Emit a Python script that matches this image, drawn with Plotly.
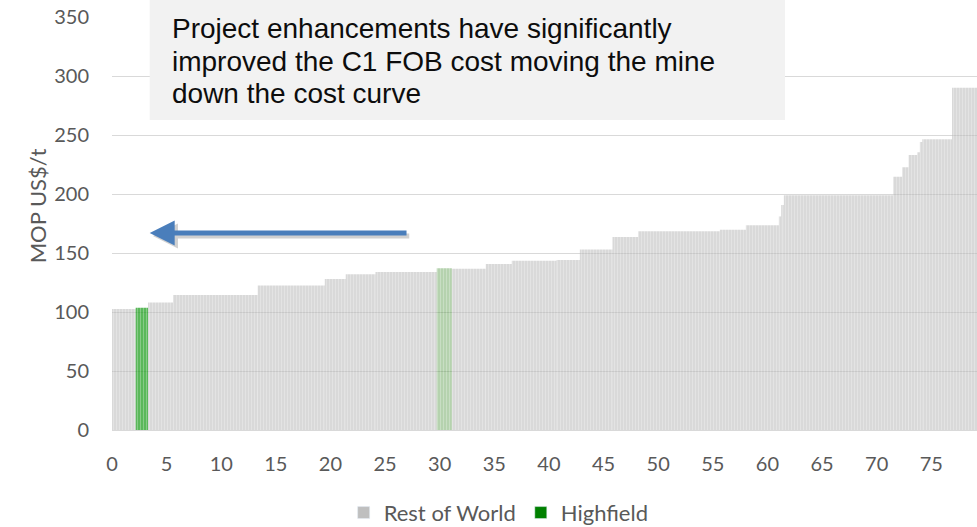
import plotly.graph_objects as go

# MOP cost curve: producers sorted by C1 FOB cost, bar width = capacity (Mt)
capacity_mt = [2.17, 1.13, 2.29, 7.75, 6.14, 1.92, 2.72, 5.61, 1.38, 3.11,
               2.38, 4.10, 2.13, 2.99, 2.35, 7.48, 2.38, 3.02, 0.21, 0.25,
               10.01, 0.82, 0.59, 0.79, 0.24, 0.22, 2.72, 2.29]
cost_usd_t = [102.5, 103.7, 108.0, 114.5, 122.5, 128.0, 132.0, 134.0, 137.0, 136.7,
              140.7, 143.5, 144.0, 153.0, 163.6, 168.4, 169.8, 173.5, 181.0, 190.7,
              199.0, 214.7, 222.6, 233.0, 235.3, 244.0, 246.3, 290.0]
producer = ["RoW", "Highfield", "RoW", "RoW", "RoW", "RoW", "RoW", "RoW",
            "Highfield (previous)", "RoW", "RoW", "RoW", "RoW", "RoW", "RoW",
            "RoW", "RoW", "RoW", "RoW", "RoW", "RoW", "RoW", "RoW", "RoW",
            "RoW", "RoW", "RoW", "RoW"]

x_ticks = list(range(0, 80, 5))
y_ticks = list(range(0, 351, 50))
note_lines = ["Project enhancements have significantly",
              "improved the C1 FOB cost moving the mine",
              "down the cost curve"]

# cumulative capacity -> bar centres
starts = []
acc = 0.0
for w in capacity_mt:
    starts.append(acc)
    acc += w
centres = [s + w / 2 for s, w in zip(starts, capacity_mt)]


def pick(name):
    idx = [i for i, p in enumerate(producer) if p == name]
    return ([centres[i] for i in idx], [cost_usd_t[i] for i in idx],
            [capacity_mt[i] for i in idx])


stripe = dict(shape="|", fgcolor="white", fgopacity=0.35, size=3, solidity=0.25)

fig = go.Figure()
for name, color, op in [("RoW", "rgb(186,186,186)", 0.55),
                        ("Highfield (previous)", "#5a9a4a", 0.45),
                        ("Highfield", "#23a023", 0.75)]:
    xs, ys, ws = pick(name)
    fig.add_trace(go.Bar(x=xs, y=ys, width=ws, showlegend=False,
                         marker=dict(color=color, opacity=op, line_width=0,
                                     pattern=stripe),
                         hoverinfo="skip"))

# legend entries
fig.add_trace(go.Bar(x=[None], y=[None], name="Rest of World",
                     marker=dict(color="#bfbfbf")))
fig.add_trace(go.Bar(x=[None], y=[None], name="Highfield",
                     marker=dict(color="#008000")))

font_axis = dict(family="Lato", size=20, color="#595959")

fig.update_layout(
    width=977, height=527,
    margin=dict(l=112, r=0, t=17, b=97, autoexpand=False),
    paper_bgcolor="white", plot_bgcolor="white",
    barmode="overlay",
    font=font_axis,
    xaxis=dict(range=[0, 79.19], tickvals=x_ticks, showgrid=False,
               showline=True, linecolor="#d9d9d9", linewidth=1,
               zeroline=False, ticks="", ticklabelstandoff=16,
               tickfont=font_axis),
    yaxis=dict(range=[0, 350], tickvals=y_ticks, showgrid=True,
               gridcolor="#d9d9d9", gridwidth=1, zeroline=False,
               ticks="", ticklabelstandoff=22, tickfont=font_axis),
    legend=dict(orientation="h", x=0.447, xanchor="center",
                yref="container", y=0.027, yanchor="middle",
                font=dict(family="Lato", size=22, color="#595959"),
                itemwidth=30, traceorder="normal"),
    showlegend=True,
)

# y-axis title
fig.add_annotation(text="MOP US$/t", xref="paper", yref="paper",
                   x=-0.1044, y=0.542, textangle=-90, showarrow=False,
                   font=dict(family="Lato", size=22, color="#595959"))

# note box
fig.add_shape(type="rect", xref="paper", yref="paper",
              x0=0.0436, x1=0.778, y0=0.7506, y1=1.05,
              fillcolor="#f2f2f2", line_width=0, layer="above")
for i, line in enumerate(note_lines):
    fig.add_annotation(text=line, xref="paper", yref="paper",
                       x=0.0667, y=(430 - 29 - 32.5 * i) / 413,
                       xanchor="left", yanchor="middle", showarrow=False,
                       font=dict(family="Liberation Sans", size=28,
                                 color="#0d0d0d"))

# arrow with soft shadow
fig.add_annotation(x=3.75, y=164.5, ax=27.35, ay=164.5, axref="x", ayref="y",
                   text="", showarrow=True, arrowhead=2, arrowsize=1,
                   arrowwidth=5, arrowcolor="rgba(0,0,0,0.18)", standoff=0)
fig.add_annotation(x=3.45, y=167, ax=27.1, ay=167, axref="x", ayref="y",
                   text="", showarrow=True, arrowhead=2, arrowsize=1,
                   arrowwidth=5, arrowcolor="#4a7ebb", standoff=0)

fig.write_html("out.html")
